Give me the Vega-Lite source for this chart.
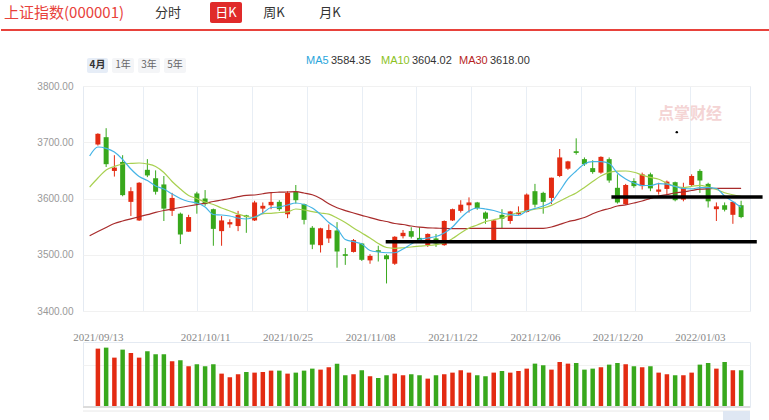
{
"$schema": "https://vega.github.io/schema/vega-lite/v6.json",
"padding": 0,
"spacing": 0,
"bounds": "full",
"config": {"view": {"stroke": null}, "font": "Liberation Sans"},
"datasets": {
"k": [
{"i":0,"date":"2021-09-13","o":3696,"h":3716,"l":3694,"c":3715,"vol":467},
{"i":1,"date":"2021-09-14","o":3709,"h":3725,"l":3656,"c":3661,"vol":475},
{"i":2,"date":"2021-09-15","o":3649,"h":3677,"l":3639,"c":3655,"vol":395},
{"i":3,"date":"2021-09-16","o":3665,"h":3677,"l":3604,"c":3606,"vol":459},
{"i":4,"date":"2021-09-17","o":3594,"h":3620,"l":3569,"c":3613,"vol":432},
{"i":5,"date":"2021-09-22","o":3561,"h":3629,"l":3560,"c":3628,"vol":395},
{"i":6,"date":"2021-09-23","o":3651,"h":3670,"l":3638,"c":3641,"vol":446},
{"i":7,"date":"2021-09-24","o":3636,"h":3650,"l":3607,"c":3612,"vol":422},
{"i":8,"date":"2021-09-27","o":3625,"h":3640,"l":3560,"c":3582,"vol":422},
{"i":9,"date":"2021-09-28","o":3578,"h":3610,"l":3569,"c":3601,"vol":366},
{"i":10,"date":"2021-09-29","o":3573,"h":3575,"l":3519,"c":3536,"vol":374},
{"i":11,"date":"2021-09-30","o":3541,"h":3571,"l":3541,"c":3567,"vol":326},
{"i":12,"date":"2021-10-08","o":3609,"h":3612,"l":3573,"c":3591,"vol":342},
{"i":13,"date":"2021-10-11","o":3600,"h":3615,"l":3587,"c":3590,"vol":326},
{"i":14,"date":"2021-10-12","o":3581,"h":3582,"l":3516,"c":3546,"vol":342},
{"i":15,"date":"2021-10-13","o":3542,"h":3569,"l":3516,"c":3561,"vol":267},
{"i":16,"date":"2021-10-14","o":3554,"h":3563,"l":3548,"c":3558,"vol":238},
{"i":17,"date":"2021-10-15","o":3551,"h":3578,"l":3542,"c":3571,"vol":262},
{"i":18,"date":"2021-10-18","o":3570,"h":3571,"l":3539,"c":3567,"vol":280},
{"i":19,"date":"2021-10-19","o":3561,"h":3596,"l":3560,"c":3593,"vol":275},
{"i":20,"date":"2021-10-20","o":3582,"h":3593,"l":3572,"c":3587,"vol":280},
{"i":21,"date":"2021-10-21","o":3588,"h":3610,"l":3581,"c":3594,"vol":291},
{"i":22,"date":"2021-10-22","o":3594,"h":3597,"l":3578,"c":3581,"vol":291},
{"i":23,"date":"2021-10-25","o":3572,"h":3613,"l":3565,"c":3610,"vol":267},
{"i":24,"date":"2021-10-26","o":3612,"h":3624,"l":3591,"c":3597,"vol":275},
{"i":25,"date":"2021-10-27","o":3590,"h":3591,"l":3554,"c":3562,"vol":291},
{"i":26,"date":"2021-10-28","o":3548,"h":3551,"l":3510,"c":3518,"vol":307},
{"i":27,"date":"2021-10-29","o":3517,"h":3548,"l":3504,"c":3547,"vol":299},
{"i":28,"date":"2021-11-01","o":3529,"h":3554,"l":3521,"c":3544,"vol":318},
{"i":29,"date":"2021-11-02","o":3543,"h":3558,"l":3477,"c":3506,"vol":347},
{"i":30,"date":"2021-11-03","o":3501,"h":3512,"l":3482,"c":3498,"vol":254},
{"i":31,"date":"2021-11-04","o":3505,"h":3528,"l":3504,"c":3526,"vol":262},
{"i":32,"date":"2021-11-05","o":3520,"h":3521,"l":3489,"c":3491,"vol":294},
{"i":33,"date":"2021-11-08","o":3490,"h":3501,"l":3484,"c":3498,"vol":246},
{"i":34,"date":"2021-11-09","o":3508,"h":3516,"l":3488,"c":3505,"vol":232},
{"i":35,"date":"2021-11-10","o":3499,"h":3501,"l":3449,"c":3492,"vol":254},
{"i":36,"date":"2021-11-11","o":3484,"h":3533,"l":3482,"c":3532,"vol":267},
{"i":37,"date":"2021-11-12","o":3533,"h":3544,"l":3529,"c":3539,"vol":254},
{"i":38,"date":"2021-11-15","o":3542,"h":3549,"l":3529,"c":3532,"vol":262},
{"i":39,"date":"2021-11-16","o":3530,"h":3549,"l":3521,"c":3523,"vol":254},
{"i":40,"date":"2021-11-17","o":3517,"h":3538,"l":3514,"c":3537,"vol":227},
{"i":41,"date":"2021-11-18","o":3529,"h":3537,"l":3514,"c":3520,"vol":254},
{"i":42,"date":"2021-11-19","o":3517,"h":3561,"l":3516,"c":3560,"vol":262},
{"i":43,"date":"2021-11-22","o":3561,"h":3582,"l":3560,"c":3581,"vol":275},
{"i":44,"date":"2021-11-23","o":3578,"h":3597,"l":3575,"c":3589,"vol":294},
{"i":45,"date":"2021-11-24","o":3588,"h":3602,"l":3575,"c":3593,"vol":275},
{"i":46,"date":"2021-11-25","o":3593,"h":3594,"l":3580,"c":3583,"vol":254},
{"i":47,"date":"2021-11-26","o":3575,"h":3577,"l":3555,"c":3564,"vol":246},
{"i":48,"date":"2021-11-29","o":3526,"h":3562,"l":3526,"c":3561,"vol":275},
{"i":49,"date":"2021-11-30","o":3571,"h":3581,"l":3547,"c":3564,"vol":288},
{"i":50,"date":"2021-12-01","o":3560,"h":3578,"l":3555,"c":3577,"vol":275},
{"i":51,"date":"2021-12-02","o":3572,"h":3586,"l":3571,"c":3575,"vol":288},
{"i":52,"date":"2021-12-03","o":3576,"h":3609,"l":3575,"c":3607,"vol":307},
{"i":53,"date":"2021-12-06","o":3613,"h":3626,"l":3584,"c":3589,"vol":347},
{"i":54,"date":"2021-12-07","o":3610,"h":3612,"l":3573,"c":3594,"vol":334},
{"i":55,"date":"2021-12-08","o":3601,"h":3637,"l":3590,"c":3637,"vol":299},
{"i":56,"date":"2021-12-09","o":3640,"h":3688,"l":3638,"c":3673,"vol":360},
{"i":57,"date":"2021-12-10","o":3653,"h":3667,"l":3651,"c":3666,"vol":347},
{"i":58,"date":"2021-12-13","o":3684,"h":3707,"l":3678,"c":3681,"vol":352},
{"i":59,"date":"2021-12-14","o":3670,"h":3673,"l":3658,"c":3661,"vol":299},
{"i":60,"date":"2021-12-15","o":3654,"h":3668,"l":3644,"c":3647,"vol":307},
{"i":61,"date":"2021-12-16","o":3646,"h":3675,"l":3644,"c":3674,"vol":318},
{"i":62,"date":"2021-12-17","o":3670,"h":3673,"l":3628,"c":3632,"vol":339},
{"i":63,"date":"2021-12-20","o":3619,"h":3643,"l":3591,"c":3593,"vol":352},
{"i":64,"date":"2021-12-21","o":3590,"h":3626,"l":3589,"c":3624,"vol":342},
{"i":65,"date":"2021-12-22","o":3631,"h":3636,"l":3619,"c":3622,"vol":326},
{"i":66,"date":"2021-12-23","o":3622,"h":3646,"l":3616,"c":3643,"vol":318},
{"i":67,"date":"2021-12-24","o":3643,"h":3646,"l":3613,"c":3618,"vol":326},
{"i":68,"date":"2021-12-27","o":3612,"h":3628,"l":3607,"c":3616,"vol":275},
{"i":69,"date":"2021-12-28","o":3617,"h":3632,"l":3607,"c":3630,"vol":262},
{"i":70,"date":"2021-12-29","o":3629,"h":3630,"l":3595,"c":3597,"vol":254},
{"i":71,"date":"2021-12-30","o":3598,"h":3628,"l":3595,"c":3619,"vol":254},
{"i":72,"date":"2021-12-31","o":3624,"h":3643,"l":3622,"c":3640,"vol":275},
{"i":73,"date":"2022-01-04","o":3649,"h":3652,"l":3610,"c":3632,"vol":339},
{"i":74,"date":"2022-01-05","o":3626,"h":3628,"l":3584,"c":3595,"vol":352},
{"i":75,"date":"2022-01-06","o":3581,"h":3593,"l":3560,"c":3586,"vol":307},
{"i":76,"date":"2022-01-07","o":3588,"h":3593,"l":3577,"c":3580,"vol":360},
{"i":77,"date":"2022-01-10","o":3571,"h":3594,"l":3555,"c":3594,"vol":294},
{"i":78,"date":"2022-01-11","o":3588,"h":3596,"l":3565,"c":3567,"vol":294}
],
"ma": [
{"i":-1,"ma5":3675.6,"ma10":3620.4,"ma30":3533.7},
{"i":0,"ma5":3691.6,"ma10":3636.4,"ma30":3541.3},
{"i":1,"ma5":3689.2,"ma10":3650.7,"ma30":3548.6},
{"i":2,"ma5":3682.7,"ma10":3656.9,"ma30":3555.6},
{"i":3,"ma5":3669.3,"ma10":3661.3,"ma30":3560.0},
{"i":4,"ma5":3652.4,"ma10":3662.4,"ma30":3563.9},
{"i":5,"ma5":3639.1,"ma10":3663.1,"ma30":3567.6},
{"i":6,"ma5":3632.0,"ma10":3661.3,"ma30":3571.2},
{"i":7,"ma5":3622.2,"ma10":3656.9,"ma30":3575.3},
{"i":8,"ma5":3616.9,"ma10":3646.2,"ma30":3578.7},
{"i":9,"ma5":3608.0,"ma10":3630.2,"ma30":3581.3},
{"i":10,"ma5":3600.0,"ma10":3616.9,"ma30":3584.0},
{"i":11,"ma5":3594.7,"ma10":3605.3,"ma30":3586.7},
{"i":12,"ma5":3592.0,"ma10":3600.0,"ma30":3589.2},
{"i":13,"ma5":3584.9,"ma10":3593.8,"ma30":3591.6},
{"i":14,"ma5":3571.6,"ma10":3589.3,"ma30":3594.7},
{"i":15,"ma5":3570.7,"ma10":3583.1,"ma30":3597.3},
{"i":16,"ma5":3568.9,"ma10":3577.8,"ma30":3600.0},
{"i":17,"ma5":3565.3,"ma10":3572.4,"ma30":3603.2},
{"i":18,"ma5":3563.6,"ma10":3568.0,"ma30":3605.7},
{"i":19,"ma5":3567.1,"ma10":3566.2,"ma30":3606.2},
{"i":20,"ma5":3574.2,"ma10":3573.2,"ma30":3608.5},
{"i":21,"ma5":3584.0,"ma10":3573.7,"ma30":3610.5},
{"i":22,"ma5":3584.9,"ma10":3575.1,"ma30":3611.2},
{"i":23,"ma5":3588.4,"ma10":3576.2,"ma30":3611.6},
{"i":24,"ma5":3592.0,"ma10":3581.3,"ma30":3612.1},
{"i":25,"ma5":3589.3,"ma10":3579.6,"ma30":3609.8},
{"i":26,"ma5":3583.1,"ma10":3576.7,"ma30":3606.6},
{"i":27,"ma5":3571.6,"ma10":3574.2,"ma30":3600.0},
{"i":28,"ma5":3557.3,"ma10":3572.1,"ma30":3590.6},
{"i":29,"ma5":3546.7,"ma10":3565.3,"ma30":3583.5},
{"i":30,"ma5":3527.1,"ma10":3557.3,"ma30":3578.5},
{"i":31,"ma5":3523.2,"ma10":3547.6,"ma30":3574.2},
{"i":32,"ma5":3519.1,"ma10":3538.7,"ma30":3570.1},
{"i":33,"ma5":3507.6,"ma10":3529.8,"ma30":3565.9},
{"i":34,"ma5":3504.9,"ma10":3520.0,"ma30":3562.1},
{"i":35,"ma5":3503.6,"ma10":3512.9,"ma30":3559.1},
{"i":36,"ma5":3503.6,"ma10":3511.5,"ma30":3555.6},
{"i":37,"ma5":3510.2,"ma10":3512.4,"ma30":3553.8},
{"i":38,"ma5":3519.1,"ma10":3513.8,"ma30":3551.1},
{"i":39,"ma5":3527.1,"ma10":3515.2,"ma30":3549.0},
{"i":40,"ma5":3529.8,"ma10":3516.4,"ma30":3547.9},
{"i":41,"ma5":3532.4,"ma10":3518.1,"ma30":3547.4},
{"i":42,"ma5":3538.7,"ma10":3520.9,"ma30":3546.8},
{"i":43,"ma5":3549.3,"ma10":3528.7,"ma30":3546.5},
{"i":44,"ma5":3565.3,"ma10":3538.7,"ma30":3546.5},
{"i":45,"ma5":3577.8,"ma10":3547.6,"ma30":3546.7},
{"i":46,"ma5":3583.1,"ma10":3552.9,"ma30":3546.8},
{"i":47,"ma5":3581.3,"ma10":3558.8,"ma30":3547.0},
{"i":48,"ma5":3578.7,"ma10":3562.2,"ma30":3547.0},
{"i":49,"ma5":3574.2,"ma10":3565.3,"ma30":3547.0},
{"i":50,"ma5":3571.6,"ma10":3570.7,"ma30":3547.0},
{"i":51,"ma5":3569.8,"ma10":3575.1,"ma30":3547.0},
{"i":52,"ma5":3577.8,"ma10":3578.1,"ma30":3547.0},
{"i":53,"ma5":3582.2,"ma10":3581.0,"ma30":3547.0},
{"i":54,"ma5":3586.7,"ma10":3583.1,"ma30":3547.0},
{"i":55,"ma5":3593.8,"ma10":3587.8,"ma30":3549.3},
{"i":56,"ma5":3613.3,"ma10":3595.2,"ma30":3554.0},
{"i":57,"ma5":3634.7,"ma10":3602.7,"ma30":3558.6},
{"i":58,"ma5":3648.9,"ma10":3609.8,"ma30":3562.1},
{"i":59,"ma5":3661.3,"ma10":3619.6,"ma30":3566.2},
{"i":60,"ma5":3665.4,"ma10":3630.2,"ma30":3572.8},
{"i":61,"ma5":3665.4,"ma10":3640.0,"ma30":3578.3},
{"i":62,"ma5":3662.2,"ma10":3646.4,"ma30":3582.2},
{"i":63,"ma5":3645.3,"ma10":3648.5,"ma30":3586.7},
{"i":64,"ma5":3634.7,"ma10":3648.9,"ma30":3588.8},
{"i":65,"ma5":3627.6,"ma10":3646.6,"ma30":3592.0},
{"i":66,"ma5":3623.1,"ma10":3641.8,"ma30":3595.6},
{"i":67,"ma5":3623.1,"ma10":3637.5,"ma30":3600.2},
{"i":68,"ma5":3626.3,"ma10":3634.3,"ma30":3604.4},
{"i":69,"ma5":3625.4,"ma10":3627.2,"ma30":3606.9},
{"i":70,"ma5":3621.3,"ma10":3621.5,"ma30":3609.8},
{"i":71,"ma5":3617.8,"ma10":3619.6,"ma30":3611.7},
{"i":72,"ma5":3617.2,"ma10":3621.5,"ma30":3614.2},
{"i":73,"ma5":3619.2,"ma10":3623.5,"ma30":3616.5},
{"i":74,"ma5":3619.2,"ma10":3620.4,"ma30":3617.4},
{"i":75,"ma5":3617.8,"ma10":3616.0,"ma30":3618.0},
{"i":76,"ma5":3604.4,"ma10":3610.3,"ma30":3618.1},
{"i":77,"ma5":3594.7,"ma10":3606.6,"ma30":3618.1},
{"i":78,"ma5":3584.35,"ma10":3604.02,"ma30":3618.00}
]
},
"vconcat": [
{
"width": 667, "height": 31,
"layer": [
{"data": {"values": [{"t": "上证指数(000001)"}]}, "mark": {"type": "text", "align": "left", "baseline": "middle", "fontSize": 15, "font": "Noto Sans CJK SC", "color": "#e8423b"}, "encoding": {"text": {"field": "t"}, "x": {"value": -79}, "y": {"value": 13}}},
{"data": {"values": [{"t": "分时"}]}, "mark": {"type": "text", "align": "center", "baseline": "middle", "fontSize": 13, "font": "Noto Sans CJK SC", "color": "#333333"}, "encoding": {"text": {"field": "t"}, "x": {"value": 85}, "y": {"value": 13}}},
{"data": {"values": [{"t": "日K"}]}, "mark": {"type": "rect", "color": "#e02a2a", "cornerRadius": 2}, "encoding": {"x": {"value": 127}, "x2": {"value": 159}, "y": {"value": 2}, "y2": {"value": 23}}},
{"data": {"values": [{"t": "日K"}]}, "mark": {"type": "text", "align": "center", "baseline": "middle", "fontSize": 13, "font": "Noto Sans CJK SC", "color": "#ffffff"}, "encoding": {"text": {"field": "t"}, "x": {"value": 143}, "y": {"value": 13}}},
{"data": {"values": [{"t": "周K"}]}, "mark": {"type": "text", "align": "center", "baseline": "middle", "fontSize": 13, "font": "Noto Sans CJK SC", "color": "#333333"}, "encoding": {"text": {"field": "t"}, "x": {"value": 191}, "y": {"value": 13}}},
{"data": {"values": [{"t": "月K"}]}, "mark": {"type": "text", "align": "center", "baseline": "middle", "fontSize": 13, "font": "Noto Sans CJK SC", "color": "#333333"}, "encoding": {"text": {"field": "t"}, "x": {"value": 247}, "y": {"value": 13}}},
{"data": {"values": [{"t": "line"}]}, "mark": {"type": "rule", "color": "#e8423b", "strokeWidth": 2}, "encoding": {"x": {"value": -82}, "x2": {"value": 687}, "y": {"value": 30}}}
]
},
{
"width": 667, "height": 49,
"layer": [
{"data": {"values": [{"t": "4月"}]}, "mark": {"type": "rect", "color": "#e6edf7", "cornerRadius": 2}, "encoding": {"x": {"value": 4}, "x2": {"value": 25}, "y": {"value": 27}, "y2": {"value": 42}}},
{"data": {"values": [{"t": "1年"}]}, "mark": {"type": "rect", "color": "#f4f5f7", "cornerRadius": 2}, "encoding": {"x": {"value": 29}, "x2": {"value": 51}, "y": {"value": 27}, "y2": {"value": 42}}},
{"data": {"values": [{"t": "3年"}]}, "mark": {"type": "rect", "color": "#f4f5f7", "cornerRadius": 2}, "encoding": {"x": {"value": 55}, "x2": {"value": 77}, "y": {"value": 27}, "y2": {"value": 42}}},
{"data": {"values": [{"t": "5年"}]}, "mark": {"type": "rect", "color": "#f4f5f7", "cornerRadius": 2}, "encoding": {"x": {"value": 81}, "x2": {"value": 103}, "y": {"value": 27}, "y2": {"value": 42}}},
{"data": {"values": [{"t": "4月"}]}, "mark": {"type": "text", "align": "center", "baseline": "middle", "fontSize": 10, "fontWeight": "bold", "font": "Noto Sans CJK SC", "color": "#333333"}, "encoding": {"text": {"field": "t"}, "x": {"value": 14.5}, "y": {"value": 34}}},
{"data": {"values": [{"t": "1年"}]}, "mark": {"type": "text", "align": "center", "baseline": "middle", "fontSize": 10, "font": "Noto Sans CJK SC", "color": "#666666"}, "encoding": {"text": {"field": "t"}, "x": {"value": 40}, "y": {"value": 34}}},
{"data": {"values": [{"t": "3年"}]}, "mark": {"type": "text", "align": "center", "baseline": "middle", "fontSize": 10, "font": "Noto Sans CJK SC", "color": "#666666"}, "encoding": {"text": {"field": "t"}, "x": {"value": 66}, "y": {"value": 34}}},
{"data": {"values": [{"t": "5年"}]}, "mark": {"type": "text", "align": "center", "baseline": "middle", "fontSize": 10, "font": "Noto Sans CJK SC", "color": "#666666"}, "encoding": {"text": {"field": "t"}, "x": {"value": 92}, "y": {"value": 34}}},
{"data": {"values": [{"t": "MA5"}]}, "mark": {"type": "text", "align": "left", "baseline": "middle", "fontSize": 11, "color": "#2aa6dc"}, "encoding": {"text": {"field": "t"}, "x": {"value": 223}, "y": {"value": 30}}},
{"data": {"values": [{"t": "3584.35"}]}, "mark": {"type": "text", "align": "left", "baseline": "middle", "fontSize": 11, "color": "#333333"}, "encoding": {"text": {"field": "t"}, "x": {"value": 248}, "y": {"value": 30}}},
{"data": {"values": [{"t": "MA10"}]}, "mark": {"type": "text", "align": "left", "baseline": "middle", "fontSize": 11, "color": "#8cc21f"}, "encoding": {"text": {"field": "t"}, "x": {"value": 298}, "y": {"value": 30}}},
{"data": {"values": [{"t": "3604.02"}]}, "mark": {"type": "text", "align": "left", "baseline": "middle", "fontSize": 11, "color": "#333333"}, "encoding": {"text": {"field": "t"}, "x": {"value": 329}, "y": {"value": 30}}},
{"data": {"values": [{"t": "MA30"}]}, "mark": {"type": "text", "align": "left", "baseline": "middle", "fontSize": 11, "color": "#b71f1f"}, "encoding": {"text": {"field": "t"}, "x": {"value": 376}, "y": {"value": 30}}},
{"data": {"values": [{"t": "3618.00"}]}, "mark": {"type": "text", "align": "left", "baseline": "middle", "fontSize": 11, "color": "#333333"}, "encoding": {"text": {"field": "t"}, "x": {"value": 407}, "y": {"value": 30}}}
]
},
{
"width": 667, "height": 225,
"view": {"stroke": "#e4eaf2"},
"data": {"name": "k"},
"encoding": {"x": {"field": "i", "type": "quantitative", "scale": {"domain": [-1.2, 78.47], "nice": false, "zero": false},
  "axis": {"orient": "bottom", "values": [5.439, 12.078, 18.717, 25.356, 31.995, 38.634, 45.273, 51.912, 58.551, 65.19, 71.829], "grid": true, "gridColor": "#e8eef5", "labels": false, "ticks": false, "domain": true, "domainOpacity": 0, "title": null, "minExtent": 18, "maxExtent": 18}}},
"layer": [
{"data": {"values": [{"i": 71.8, "v": 3750, "t": "点掌财经"}]}, "mark": {"type": "text", "fontSize": 16, "fontWeight": "bold", "font": "Noto Sans CJK SC", "color": "#f4d4d4"}, "encoding": {"y": {"field": "v", "type": "quantitative"}, "text": {"field": "t"}}},
{"data": {"values": [{"i": 70.2, "v": 3718}]}, "mark": {"type": "point", "filled": true, "size": 6, "color": "#000000", "opacity": 1}, "encoding": {"y": {"field": "v", "type": "quantitative"}}},
{"mark": {"type": "rule", "strokeWidth": 1},
 "encoding": {
  "y": {"field": "l", "type": "quantitative", "scale": {"domain": [3400, 3800], "nice": false, "zero": false},
   "axis": {"values": [3400, 3500, 3600, 3700, 3800], "format": ".2f", "grid": true, "gridColor": "#f1f1f1", "domain": false, "ticks": false, "labelPadding": 10, "labelColor": "#999999", "labelFontSize": 10, "title": null, "minExtent": 82, "maxExtent": 82}},
  "y2": {"field": "h"},
  "color": {"condition": {"test": "datum.c >= datum.o", "value": "#e32b12"}, "value": "#38a81c"}}},
{"mark": {"type": "bar", "width": 5},
 "encoding": {
  "y": {"field": "o", "type": "quantitative"},
  "y2": {"field": "c"},
  "color": {"condition": {"test": "datum.c >= datum.o", "value": "#e32b12"}, "value": "#38a81c"}}},
{"data": {"name": "ma"}, "mark": {"type": "line", "interpolate": "monotone", "strokeWidth": 1.2, "color": "#a82b2b", "clip": true}, "encoding": {"y": {"field": "ma30", "type": "quantitative"}}},
{"data": {"name": "ma"}, "mark": {"type": "line", "interpolate": "monotone", "strokeWidth": 1.2, "color": "#a8d050", "clip": true}, "encoding": {"y": {"field": "ma10", "type": "quantitative"}}},
{"data": {"name": "ma"}, "mark": {"type": "line", "interpolate": "monotone", "strokeWidth": 1.2, "color": "#45b4e6", "clip": true}, "encoding": {"y": {"field": "ma5", "type": "quantitative"}}},
{"data": {"values": [{"i1": 34.9, "i2": 79.9, "v": 3523.2}, {"i1": 62.27, "i2": 80.6, "v": 3602.7}]}, "mark": {"type": "rule", "strokeWidth": 3.5, "color": "#000000"},
 "encoding": {"x": {"field": "i1", "type": "quantitative"}, "x2": {"field": "i2"}, "y": {"field": "v", "type": "quantitative"}}}
]
},
{
"width": 667, "height": 65,
"view": {"stroke": "#e4eaf2"},
"layer": [
{"data": {"name": "k"}, "mark": {"type": "bar", "width": 4.5},
 "encoding": {
  "x": {"field": "i", "type": "quantitative", "scale": {"domain": [-1.2, 78.47], "nice": false, "zero": false},
   "axis": {"orient": "top", "values": [0, 13, 23, 33, 43, 53, 63, 73], "labelExpr": "datum.value == 0 ? '2021/09/13' : datum.value == 13 ? '2021/10/11' : datum.value == 23 ? '2021/10/25' : datum.value == 33 ? '2021/11/08' : datum.value == 43 ? '2021/11/22' : datum.value == 53 ? '2021/12/06' : datum.value == 63 ? '2021/12/20' : '2022/01/03'", "grid": false, "ticks": false, "domain": false, "labelPadding": 2, "labelBaseline": "alphabetic", "labelFont": "Liberation Sans Narrow", "labelFontSize": 11, "labelColor": "#888888", "title": null}},
  "y": {"field": "vol", "type": "quantitative", "scale": {"domain": [0, 520], "nice": false},
   "axis": {"values": [340], "grid": true, "gridColor": "#f2f2f2", "labelExpr": "''", "ticks": false, "domain": false, "title": null, "minExtent": 82, "maxExtent": 82}},
  "color": {"condition": {"test": "datum.c >= datum.o", "value": "#e32b12"}, "value": "#38a81c"}}},
{"data": {"values": [{"b": 0}]}, "mark": {"type": "rule", "color": "#dcdcdc", "strokeWidth": 2}, "encoding": {"y": {"datum": 0, "type": "quantitative"}}},
{"data": {"values": [{"s": "track"}]}, "mark": {"type": "rule", "color": "#e8e8e8", "strokeWidth": 1}, "encoding": {"x": {"value": 0}, "x2": {"value": 667}, "y": {"value": 69}}},
{"data": {"values": [{"s": "handle"}]}, "mark": {"type": "rect", "color": "#dfe7f3"}, "encoding": {"x": {"value": 640}, "x2": {"value": 667}, "y": {"value": 69}, "y2": {"value": 78}}}
]
}
]
}
